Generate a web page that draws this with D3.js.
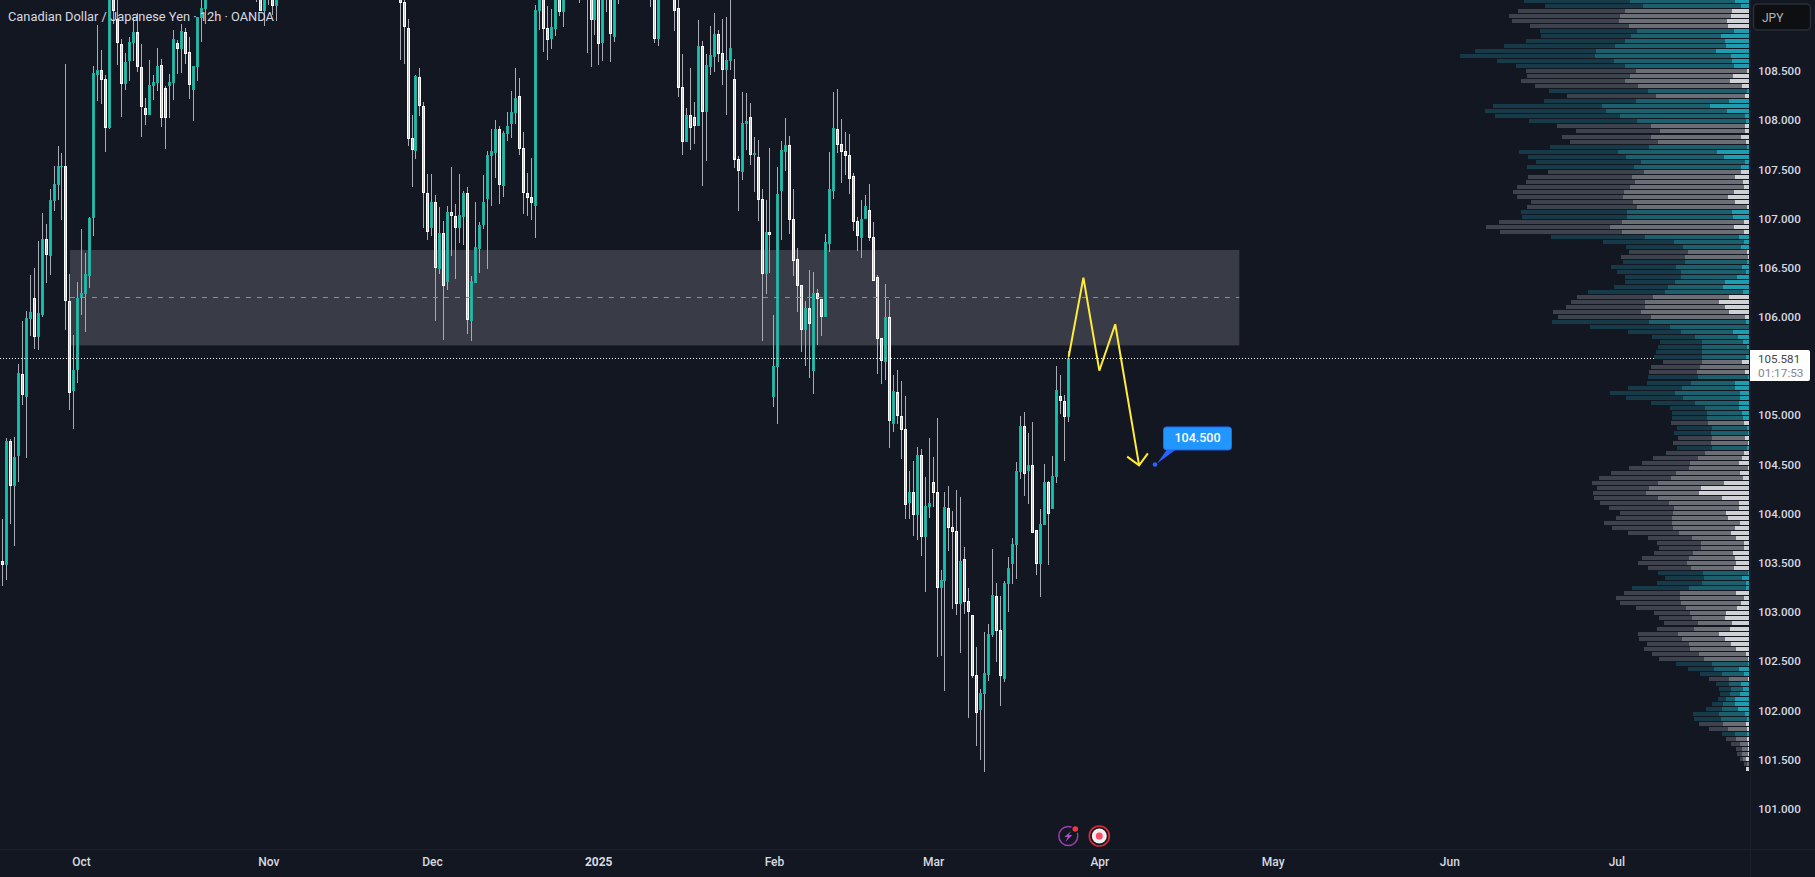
<!DOCTYPE html>
<html>
<head>
<meta charset="utf-8">
<title>CAD/JPY 12h</title>
<script src="https://cdn.jsdelivr.net/npm/d3@7/dist/d3.min.js"></script>
<style>
  html, body { margin: 0; padding: 0; background: #131722; overflow: hidden; }
  svg { display: block; font-family: Roboto, "Liberation Sans", sans-serif; }
</style>
</head>
<body>
<svg id="chart" width="1815" height="877"></svg>
<script>
// Sessions that trade entirely above the visible price window are left out of the arrays below.
const barSlots = d3.merge([d3.range(0, 52), d3.range(64, 70), d3.range(100, 142), [145],
  d3.range(147, 156), d3.range(163, 166), d3.range(169, 269)]);

const opens = [
  103.519,103.478,104.739,104.281,104.586,105.420,105.186,105.979,106.192,105.796,
  106.020,106.792,106.619,107.178,107.341,107.524,107.534,106.162,105.247,105.460,
  106.192,106.233,106.416,107.006,108.460,108.510,108.419,107.921,109.344,109.029,
  108.775,108.368,108.602,108.785,108.897,108.541,108.124,108.053,108.348,108.378,
  108.561,108.327,108.348,108.378,108.785,108.724,108.897,108.693,108.307,108.541,
  109.039,109.130,
  109.4,109.324,109.110,109.35,109.344,109.161,
  109.476,109.202,108.937,107.819,107.687,108.439,108.144,107.260,106.904,107.168,
  106.487,106.853,106.355,107.067,107.026,106.904,107.016,107.260,105.958,106.345,
  106.690,106.934,107.199,107.636,107.666,107.910,107.331,107.860,107.961,108.073,
  108.246,107.717,107.260,107.219,107.128,109.110,109.283,108.937,108.825,108.927,
  109.324,109.100,
  109.5,
  109.4,109.324,109.019,109.263,108.785,109.5,109.375,108.846,109.45,
  109.5,109.283,108.825,
  109.324,109.141,108.337,107.778,108.053,108.032,107.941,108.754,108.083,108.541,
  108.642,108.876,108.683,108.510,108.602,108.419,107.605,107.473,107.961,108.032,
  107.646,107.626,107.199,106.436,106.863,105.186,105.491,107.280,107.677,107.748,
  106.995,106.589,106.324,105.867,106.091,105.450,106.243,106.182,105.999,106.741,
  107.280,107.910,107.758,107.687,107.646,107.433,106.975,106.802,106.995,107.087,
  106.812,106.406,105.786,105.542,105.999,104.911,105.237,104.993,104.860,104.108,
  104.220,103.986,104.596,103.762,104.067,104.322,104.220,103.244,103.315,104.057,
  103.864,103.823,103.081,103.539,103.112,102.970,102.359,102.004,102.166,102.359,
  102.766,103.162,102.817,102.319,103.285,103.488,103.681,104.423,104.891,104.433,
  104.494,103.833,103.488,103.884,104.322,104.047,104.372,105.196,105.145,104.982
];
const highs = [
  103.945,104.769,104.759,104.779,105.521,105.958,106.060,106.426,106.497,106.772,
  107.056,106.945,107.300,107.534,107.738,107.666,108.571,106.436,105.816,106.355,
  106.894,106.650,107.016,108.551,108.968,108.714,108.460,109.629,109.527,109.273,
  108.825,108.683,108.846,109.049,109.090,108.775,108.226,108.612,108.460,108.734,
  108.622,108.348,108.470,108.917,108.815,108.978,108.937,108.846,108.551,109.049,
  109.253,109.303,
  109.6,109.5,109.45,109.5,109.45,109.42,
  109.6,109.253,109.029,108.053,108.460,108.531,108.185,107.453,107.453,107.239,
  107.117,106.975,107.128,107.524,107.148,107.453,107.280,107.321,106.416,107.168,
  106.965,107.443,107.687,107.910,108.002,107.941,107.890,108.083,108.297,108.531,
  108.429,107.880,107.463,107.616,109.171,109.476,109.425,109.161,109.130,109.476,
  109.425,109.375,
  109.6,
  109.55,109.45,109.4,109.35,109.4,109.6,109.5,109.45,109.6,
  109.6,109.4,109.4,
  109.5,109.253,108.673,108.124,108.531,108.185,109.019,108.805,108.673,108.958,
  109.090,108.917,109.029,109.049,109.253,108.622,107.636,108.287,108.277,108.175,
  107.829,107.799,107.300,107.189,107.717,106.020,107.524,107.788,108.022,107.839,
  107.300,106.701,106.324,106.162,106.477,106.457,106.284,106.182,106.843,107.677,
  108.287,108.317,108.012,107.880,107.860,107.463,107.016,107.189,107.239,107.351,
  106.965,106.426,105.786,106.335,106.172,105.409,105.460,105.348,105.196,104.433,
  104.535,104.677,104.657,104.372,104.769,104.576,104.972,103.427,104.220,104.281,
  104.027,104.240,104.169,103.661,103.244,102.970,102.644,102.217,102.797,102.878,
  103.640,103.295,103.162,103.315,103.559,103.752,104.525,104.993,105.033,104.820,
  104.932,103.833,104.047,104.505,104.332,104.586,105.501,105.409,105.206,105.653
];
const lows = [
  103.264,103.325,103.895,103.671,104.322,105.104,104.566,105.806,105.674,105.664,
  105.999,106.345,106.426,107.077,107.189,106.985,105.867,105.054,104.860,105.328,
  106.020,105.847,106.294,106.823,108.195,108.165,107.677,107.910,108.978,108.561,
  108.032,108.307,108.398,108.602,108.490,107.829,107.951,108.053,108.205,108.297,
  107.931,107.707,108.022,108.205,108.470,108.480,108.571,108.215,107.992,108.398,
  108.795,108.978,
  109.202,109.110,108.958,109.171,109.069,109.008,
  108.612,108.571,107.738,107.321,107.605,108.043,106.904,106.782,106.823,105.958,
  106.436,105.765,106.274,106.619,106.385,106.751,106.731,105.826,105.755,106.345,
  106.446,106.894,106.487,107.128,107.412,107.148,107.219,107.788,107.819,107.961,
  107.646,107.046,107.026,106.985,106.802,108.917,108.693,108.612,108.724,108.856,
  109.059,108.947,
  109.191,
  108.683,108.541,108.866,108.561,108.602,109.100,108.592,108.795,109.181,
  109.151,108.785,108.754,
  108.907,108.236,107.646,107.778,107.697,107.758,107.941,107.331,107.585,108.460,
  108.490,108.592,108.358,108.053,108.510,107.514,107.077,107.392,107.697,107.544,
  107.270,106.975,105.755,106.233,106.446,105.084,104.911,106.782,107.483,106.843,
  106.416,106.050,105.643,105.501,105.379,105.216,105.714,105.806,105.999,106.660,
  107.199,107.666,107.361,107.443,107.250,106.873,106.670,106.599,106.995,106.772,
  106.365,105.420,105.318,105.359,104.667,104.830,104.911,104.555,103.945,103.945,
  103.773,103.732,103.569,103.203,103.955,104.067,102.542,102.552,102.197,103.620,
  103.030,102.970,102.583,102.980,101.922,102.329,101.638,101.495,101.373,102.298,
  102.746,102.491,102.044,102.288,103.000,103.285,103.335,104.352,104.179,104.098,
  103.803,103.376,103.152,103.884,103.478,104.047,104.311,105.013,104.535,104.932
];
const closes = [
  103.478,104.739,104.281,104.576,105.430,105.206,105.989,106.050,105.796,106.040,
  106.792,106.630,107.189,107.351,107.534,107.534,106.162,105.226,105.460,106.192,
  106.243,106.436,107.006,108.480,108.510,108.409,107.921,109.425,109.110,108.785,
  108.368,108.592,108.795,108.897,108.541,108.134,108.053,108.358,108.388,108.551,
  108.022,108.022,108.388,108.825,108.724,108.907,108.673,108.358,108.551,109.049,
  109.141,109.273,
  109.3,109.110,109.303,109.4,109.161,109.324,
  109.191,108.947,107.809,107.697,108.449,108.144,107.260,106.863,107.168,106.497,
  106.853,106.314,107.067,107.026,106.904,107.036,107.260,105.969,106.365,106.711,
  106.934,107.168,107.646,107.687,107.910,107.341,107.870,107.941,108.083,108.226,
  107.707,107.260,107.209,107.158,109.120,109.303,108.927,108.815,108.947,109.253,
  109.100,109.273,
  109.4,
  109.3,109.019,109.303,108.775,109.253,109.4,108.876,109.344,109.5,
  109.45,108.825,109.273,
  109.110,108.327,107.778,108.053,107.921,107.941,108.754,108.083,108.561,108.663,
  108.876,108.673,108.510,108.612,108.734,107.595,107.483,107.971,107.992,107.646,
  107.666,107.189,106.436,106.863,106.833,105.501,107.250,107.697,107.748,106.985,
  106.568,106.314,105.867,106.091,105.928,106.243,106.182,105.999,106.762,107.300,
  107.921,107.748,107.677,107.636,107.402,106.965,106.823,106.995,107.128,106.802,
  106.365,105.775,105.552,105.999,104.942,105.247,104.993,104.850,104.088,104.220,
  103.986,104.596,103.762,104.078,104.108,104.210,103.244,103.325,104.067,103.854,
  103.813,103.081,103.519,103.102,103.000,102.349,101.973,102.176,102.380,102.776,
  103.173,102.807,102.349,103.295,103.447,103.691,104.433,104.891,104.403,104.494,
  103.803,103.488,103.895,104.322,103.996,104.383,105.257,105.145,104.982,105.581
];

// Volume profile: one entry per price row, top row first. Kinds run in blocks of T (teal) and G (grey).
const profileKindRuns = [["T",2],["G",4],["T",8],["G",4],["T",1],["G",1],["T",5],["G",4],["T",5],["G",8],
  ["T",2],["G",3],["T",3],["G",2],["T",7],["G",5],["T",8],["G",3],["T",9],["G",1],["T",2],["G",2],["T",1],
  ["G",24],["T",4],["G",14],["T",3],["G",1],["T",8],["G",2],["T",1],["G",7]];
const profileDark = [
  318,294,321,333,321,297,291,270,297,333,363,405,351,327,330,309,312,309,297,267,
  276,327,363,375,324,282,252,267,264,297,297,294,315,321,288,312,327,339,333,318,
  306,330,318,315,369,372,366,282,213,171,177,192,186,195,192,168,150,162,231,228,
  222,237,264,279,291,240,159,129,126,132,138,144,117,147,144,150,132,162,195,171,
  132,105,105,105,111,105,111,102,114,105,117,135,144,180,195,216,198,156,159,192,
  207,195,159,168,204,183,153,132,132,126,117,141,147,129,135,117,135,171,168,192,
  183,150,108,99,102,111,120,129,126,138,141,135,108,78,66,60,39,36,30,24,
  33,48,78,81,72,57,39,30,27,18,15,9,9,0
];
const profileMid = [
  315,294,321,333,324,297,291,270,300,333,360,408,354,327,333,309,315,312,297,267,
  279,324,363,375,327,282,255,270,264,294,297,294,312,321,291,309,324,342,330,315,
  306,330,315,318,366,372,366,282,210,174,177,189,186,198,195,168,150,165,234,228,
  222,240,264,282,291,237,156,129,123,135,141,132,120,147,144,150,132,159,195,171,
  132,102,105,108,108,105,111,99,111,105,117,132,147,177,192,216,198,156,159,192,
  210,195,159,168,204,186,156,132,129,129,120,138,147,129,135,114,132,171,168,192,
  180,153,108,99,102,108,123,129,126,138,141,132,108,75,66,57,36,36,30,27,
  36,48,78,78,69,57,36,33,24,18,18,9,6,0
];
const profileBright = [
  42,24,51,54,66,63,45,84,72,69,99,54,51,45,6,48,57,21,6,12,
  60,117,66,12,9,12,12,24,9,6,96,75,12,24,24,42,18,15,45,63,
  42,6,51,48,15,45,15,30,15,24,6,3,6,21,9,36,72,78,18,60,
  90,72,60,12,9,0,48,33,18,6,0,9,21,0,12,3,42,42,27,27,
  30,30,21,18,15,6,3,12,3,6,15,21,30,3,27,18,75,144,150,81,
  30,30,69,63,27,42,54,39,15,15,48,42,39,45,3,21,9,9,39,15,
  24,36,69,72,51,57,90,72,54,39,9,3,3,30,15,3,24,18,27,42,
  42,33,12,6,9,6,6,6,3,3,3,9,0,9
];

// 105.500 sits behind the last-price badge and is not labelled.
const priceTicks = [101, 101.5, 102, 102.5, 103, 103.5, 104, 104.5, 105, 106, 106.5, 107, 107.5, 108, 108.5];
const timeTickBars = [19.8, 66.9, 108, 149.8, 194, 234, 275.8, 319.4, 363.8, 405.8];
const timeTickLabels = ["Oct", "Nov", "Dec", "2025", "Feb", "Mar", "Apr", "May", "Jun", "Jul"];

const lastPrice = 105.581;
const countdown = "01:17:53";
const zoneTop = 106.68, zoneBottom = 105.71, zoneMid = 106.2;
const zoneBars = [17, 311];
const projectionBars = [268.1, 271.8, 275.8, 279.8, 285.8];
const projectionPrices = [105.595, 106.399, 105.453, 105.925, 104.491];
const arrowBars = [282.8, 285.8, 288];
const arrowPrices = [104.579, 104.491, 104.613];
const targetPrice = 104.5;
const targetBar = 289.8;
const profileTopPrice = 109.212, profileRowStep = 0.05104;

const svg = d3.select("#chart");
const W = 1815, H = 877;
const x = d3.scaleLinear().domain([0, 268]).range([2.33, 1068.3]);
const y = d3.scaleLinear().domain([108.5, 101]).range([71, 808.7]);
const vol = d3.scaleLinear().domain([0, 867]).range([0, 289]);
const profileRight = 1749;

svg.append("rect").attr("width", W).attr("height", H).attr("fill", "#131722");

// Supply zone behind the candles
svg.append("rect")
  .attr("x", x(zoneBars[0])).attr("width", x(zoneBars[1]) - x(zoneBars[0]))
  .attr("y", y(zoneTop)).attr("height", y(zoneBottom) - y(zoneTop))
  .attr("fill", "#393b46");

// Candlesticks: wick, body, and a softer inner column
const bars = barSlots.map((slot, k) => ({ slot, o: opens[k], h: highs[k], l: lows[k], c: closes[k] }));
const cx = d => Math.floor(x(d.slot)) + 0.5;
const candles = svg.append("g").attr("class", "candles");
candles.selectAll("rect.wick").data(bars).join("rect").attr("class", "wick")
  .attr("x", d => cx(d) - 0.5).attr("width", 1)
  .attr("y", d => Math.round(y(d.h)))
  .attr("height", d => Math.max(1, Math.round(y(d.l)) - Math.round(y(d.h))))
  .attr("fill", "#a9acb5");
const bodyTop = d => Math.round(y(Math.max(d.o, d.c)));
const bodyH = d => Math.max(1, Math.round(y(Math.min(d.o, d.c))) - bodyTop(d));
candles.selectAll("rect.body").data(bars).join("rect").attr("class", "body")
  .attr("x", d => cx(d) - 1.5).attr("width", 3)
  .attr("y", bodyTop).attr("height", bodyH)
  .attr("fill", d => d.c >= d.o ? "#22ad9f" : "#ffffff");
candles.selectAll("rect.core").data(bars).join("rect").attr("class", "core")
  .attr("x", d => cx(d) - 0.5).attr("width", 1)
  .attr("y", d => bodyTop(d) + 1).attr("height", d => Math.max(0, bodyH(d) - 2))
  .attr("fill", d => d.c >= d.o ? "#12c4b0" : "#c6c7cd");

// Zone midline and last-price line
svg.append("line")
  .attr("x1", x(zoneBars[0])).attr("x2", x(zoneBars[1]))
  .attr("y1", Math.round(y(zoneMid)) + 0.5).attr("y2", Math.round(y(zoneMid)) + 0.5)
  .attr("stroke", "#8d8f97").attr("stroke-dasharray", "5,6");
svg.append("line")
  .attr("x1", 0).attr("x2", 1746)
  .attr("y1", Math.floor(y(lastPrice)) + 0.5).attr("y2", Math.floor(y(lastPrice)) + 0.5)
  .attr("stroke", "#ffffff").attr("stroke-dasharray", "1,2");

// Volume profile rows, stacked leftwards from the axis
const profileKind = d3.merge(profileKindRuns.map(([kind, n]) => d3.range(n).map(() => kind)));
const rows = profileKind.map((kind, k) => ({
  kind, price: profileTopPrice - k * profileRowStep,
  dark: profileDark[k], mid: profileMid[k], bright: profileBright[k]
}));
const palette = {
  T: { dark: "#173a48", mid: "#1c5f6d", bright: "#1e9db1" },
  G: { dark: "#3e424c", mid: "#6b6e75", bright: "#cfd1d5" }
};
const profile = svg.append("g").attr("class", "profile");
[["bright", d => d.bright], ["mid", d => d.bright + d.mid], ["dark", d => d.bright + d.mid + d.dark]]
  .forEach(([part, extent]) => {
    profile.selectAll("rect." + part).data(rows).join("rect").attr("class", part)
      .attr("x", d => profileRight - vol(extent(d)))
      .attr("width", d => vol(d[part]))
      .attr("y", d => Math.round(y(d.price)) - 2).attr("height", 4)
      .attr("fill", d => palette[d.kind][part]);
  });

// Projected path and arrow head
const line = d3.line().x(d => x(d[0])).y(d => y(d[1]));
const yellow = "#ffeb3b";
svg.append("path").attr("d", line(d3.zip(projectionBars, projectionPrices)))
  .attr("fill", "none").attr("stroke", yellow).attr("stroke-width", 2).attr("stroke-linejoin", "miter");
svg.append("path").attr("d", line(d3.zip(arrowBars, arrowPrices)))
  .attr("fill", "none").attr("stroke", yellow).attr("stroke-width", 2);

// Target callout anchored on its price
const ax = x(targetBar), ay = y(targetPrice);
const callout = svg.append("g").attr("transform", `translate(${ax},${ay})`);
callout.append("path").attr("d", "M2,-1 L12,-15 L21,-15 Z").attr("fill", "#2962ff");
callout.append("circle").attr("r", 2.3).attr("fill", "#2962ff");
callout.append("rect").attr("x", 8.5).attr("y", -37.5).attr("width", 68).attr("height", 23).attr("rx", 3)
  .attr("fill", "#2196ff").attr("stroke", "#2962ff").attr("stroke-width", 1);
callout.append("text").attr("x", 42.5).attr("y", -22).attr("text-anchor", "middle")
  .attr("fill", "#ffffff").attr("font-size", 12.5).attr("font-weight", 500)
  .text(d3.format(".3f")(targetPrice));

// Pane separators
svg.append("line").attr("x1", 1750.5).attr("x2", 1750.5).attr("y1", 0).attr("y2", H).attr("stroke", "#1b202c");
svg.append("line").attr("x1", 0).attr("x2", W).attr("y1", 849.5).attr("y2", 849.5).attr("stroke", "#1b202c");

// Price axis
const priceAxis = svg.append("g").attr("transform", "translate(1758,0)")
  .call(d3.axisRight(y).tickValues(priceTicks).tickFormat(d3.format(".3f")).tickSize(0).tickPadding(0));
priceAxis.select(".domain").remove();
priceAxis.selectAll("text").attr("fill", "#d8dae1").attr("font-size", 11.6).attr("font-weight", 500)
  .attr("font-family", "Roboto, sans-serif");

// Time axis
const timeAxis = svg.append("g").attr("transform", "translate(0,857)")
  .call(d3.axisBottom(x).tickValues(timeTickBars).tickFormat((d, k) => timeTickLabels[k]).tickSize(0).tickPadding(0));
timeAxis.select(".domain").remove();
timeAxis.selectAll("text").attr("fill", "#d8dae1").attr("font-size", 12).attr("font-family", "Roboto, sans-serif")
  .attr("font-weight", (d, k) => timeTickLabels[k] === "2025" ? 700 : 500);

// Last-price badge
svg.append("path").attr("d", "M1750,350 H1808 Q1810,350 1810,352 V379 Q1810,381 1808,381 H1750 Z").attr("fill", "#ffffff");
svg.append("text").attr("x", 1758).attr("y", 362.5).attr("fill", "#3f434b").attr("font-size", 11.6)
  .text(d3.format(".3f")(lastPrice));
svg.append("text").attr("x", 1758).attr("y", 377).attr("fill", "#82858e").attr("font-size", 11.8).text(countdown);

// Currency selector
svg.append("rect").attr("x", 1753.5).attr("y", 4).attr("width", 57).attr("height", 26).attr("rx", 4)
  .attr("fill", "#0e0f11").attr("stroke", "#2a2e39").attr("stroke-width", 1.5);
svg.append("text").attr("x", 1762).attr("y", 22).attr("fill", "#b2b5be").attr("font-size", 12).text("JPY");

// Chart title
svg.append("text").attr("x", 8).attr("y", 21).attr("fill", "#d8dae1").attr("font-size", 12.85)
  .text("Canadian Dollar / Japanese Yen · 12h · OANDA");

// Toolbar icons
const bolt = svg.append("g").attr("transform", "translate(1068.3,836)");
bolt.append("circle").attr("r", 9.5).attr("fill", "none").attr("stroke", "#9c3fb0").attr("stroke-width", 1.5);
bolt.append("path").attr("d", "M3,-5 L-4,1 L-0.5,1 L-3,6 L4,-1 L0.5,-1 Z").attr("fill", "#b04cc8");
bolt.append("circle").attr("cx", 7).attr("cy", -7).attr("r", 4.2).attr("fill", "#131722");
bolt.append("circle").attr("cx", 7).attr("cy", -7).attr("r", 2.8).attr("fill", "#f23645");
const rec = svg.append("g").attr("transform", "translate(1099.3,836)");
rec.append("circle").attr("r", 10).attr("fill", "#15161a").attr("stroke", "#d92b3a").attr("stroke-width", 1.6);
rec.append("circle").attr("r", 7.5).attr("fill", "#f0f0f3");
rec.append("circle").attr("r", 3.5).attr("fill", "#ff4a68");
</script>
</body>
</html>
